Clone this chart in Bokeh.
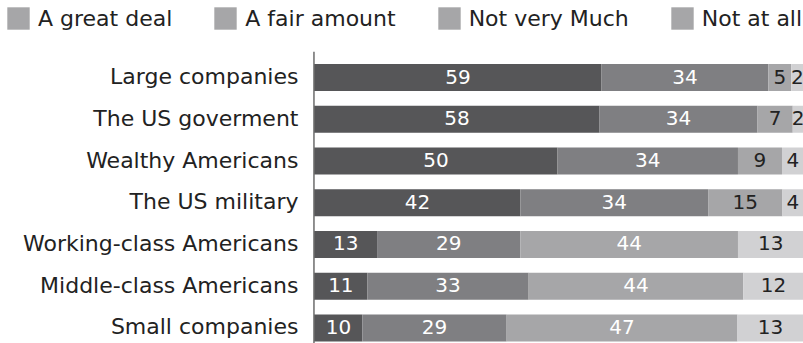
from bokeh.plotting import figure
from bokeh.layouts import column
from bokeh.models import ColumnDataSource, Range1d, Legend, LegendItem, Span
from bokeh.core.properties import value
from bokeh.embed import file_html
from bokeh.resources import INLINE

categories = ["Large companies", "The US goverment", "Wealthy Americans", "The US military",
              "Working-class Americans", "Middle-class Americans", "Small companies"]
series_names = ["A great deal", "A fair amount", "Not very Much", "Not at all"]

# printed values
great = [59, 58, 50, 42, 13, 11, 10]
fair = [34, 34, 34, 34, 29, 33, 29]
not_very = [5, 7, 9, 15, 44, 44, 47]
not_at_all = [2, 2, 4, 4, 13, 12, 13]

# drawn segment lengths, as measured on the bars of the picture
great_len = [58.7, 58.3, 49.7, 42.1, 12.8, 10.8, 9.8]
fair_len = [34.1, 32.3, 36.9, 38.4, 29.3, 33.0, 29.5]
not_very_len = [4.7, 7.2, 9.0, 15.2, 44.5, 43.9, 47.2]
not_at_all_len = [2.5, 2.2, 4.4, 4.3, 13.4, 12.3, 13.5]

colors = ["#565658", "#7f7f82", "#a6a6a8", "#d1d1d3"]
legend_color = "#a6a6a8"
FONT = "DejaVu Sans"
NAN = float("nan")

n = len(categories)
ys = [n - 1 - i for i in range(n)]

# ---- legend strip ----
lg = figure(width=803, height=51, output_backend="svg", toolbar_location=None,
            x_range=Range1d(0, 1), y_range=Range1d(0, 1),
            x_axis_location=None, y_axis_location=None,
            min_border_left=0, min_border_right=0, min_border_top=0, min_border_bottom=0)
lg.grid.visible = False
lg.outline_line_color = None
lg.background_fill_color = "white"
lg.border_fill_color = "white"
items = []
for name in series_names:
    r = lg.quad(left=[NAN], right=[NAN], top=[NAN], bottom=[NAN],
                fill_color=legend_color, line_color=None)
    items.append(LegendItem(label=name, renderers=[r]))
legend = Legend(items=items, orientation="horizontal", location=(4, 19),
                glyph_width=28, glyph_height=28, label_standoff=6, spacing=39,
                padding=0, margin=0, border_line_color=None, background_fill_alpha=0,
                label_text_font=FONT, label_text_font_size="22px", label_text_color="#222222")
lg.add_layout(legend, "center")

# ---- bars ----
p = figure(width=803, height=292, output_backend="svg", toolbar_location=None,
           x_range=Range1d(-64.2, 100), y_range=Range1d(-0.372, 6.624),
           x_axis_location=None, y_axis_location=None,
           min_border_left=0, min_border_right=0, min_border_top=0, min_border_bottom=0)
p.grid.visible = False
p.outline_line_color = None
p.background_fill_color = "white"
p.border_fill_color = "white"

values = [great, fair, not_very, not_at_all]
lengths = [great_len, fair_len, not_very_len, not_at_all_len]
left = [0.0] * n
for k in range(4):
    right = [left[i] + lengths[k][i] for i in range(n)]
    xc = [(left[i] + right[i]) / 2 for i in range(n)]
    if k < 2:
        tc = ["#ffffff"] * n
    elif k == 2:
        tc = ["#ffffff" if v >= 20 else "#222222" for v in values[k]]
    else:
        tc = ["#222222"] * n
    src = ColumnDataSource(dict(y=ys, left=left, right=right, xc=xc,
                                label=[str(v) for v in values[k]], tc=tc))
    p.hbar(y="y", left="left", right="right", height=0.648, source=src,
           fill_color=colors[k], line_color=None)
    p.text(x="xc", y="y", text="label", text_color="tc", source=src,
           text_align="center", text_baseline="middle", y_offset=-1,
           text_font=value(FONT), text_font_size="20px")
    left = right

# category labels and the vertical axis line
cat_src = ColumnDataSource(dict(y=ys, x=[0] * n, label=categories))
p.text(x="x", y="y", text="label", source=cat_src, x_offset=-16, y_offset=-1,
       text_align="right", text_baseline="middle", text_color="#222222",
       text_font=value(FONT), text_font_size="22px")
p.add_layout(Span(location=-0.1, dimension="height", line_color="#222222", line_width=1))

layout = column(lg, p, spacing=0)
open("out.html", "w").write(file_html(layout, INLINE))
